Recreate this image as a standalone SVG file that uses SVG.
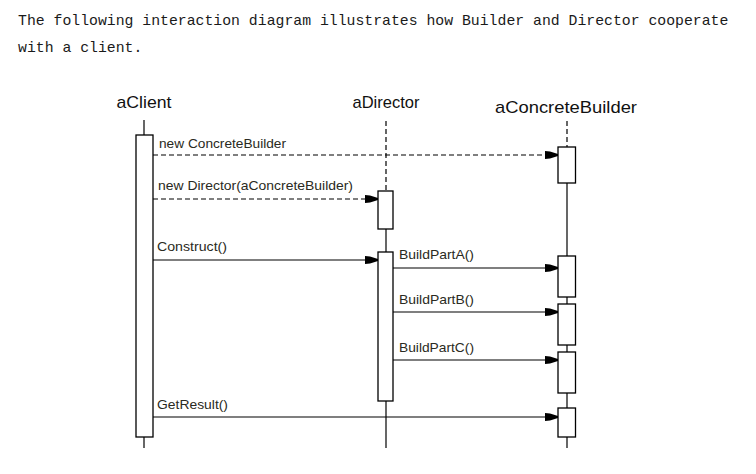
<svg xmlns="http://www.w3.org/2000/svg" width="756" height="474" viewBox="0 0 756 474">
<style>
.intro{font-family:"Liberation Mono","Courier New",monospace;font-size:14.8px;fill:#1a1a1a}
.title{font-family:"Liberation Sans",Arial,sans-serif;font-size:17px;fill:#111;text-anchor:middle}
.lbl{font-family:"Liberation Sans",Arial,sans-serif;font-size:13.3px;fill:#2a2a22}
.life{stroke:#000;stroke-width:1.2;fill:none}
.dash{stroke-dasharray:5 3}
.act{fill:#fff;stroke:#000;stroke-width:1.3}
.msg{stroke:#000;stroke-width:1.2;fill:none;marker-end:url(#ah)}
</style>
<defs>
<marker id="ah" markerUnits="userSpaceOnUse" markerWidth="14" markerHeight="10" viewBox="-13 -5 14 10" refX="0" refY="0" orient="auto">
<path d="M-13,-4 L-8,-3.5 L0,-1 L0,1 L-8,3.5 L-13,4 Z" fill="#000"/>
</marker>
</defs>
<rect width="756" height="474" fill="#fff"/>
<text class="intro" x="18" y="25">The following interaction diagram illustrates how Builder and Director cooperate</text>
<text class="intro" x="18" y="52">with a client.</text>

<g id="aClient">
<text class="title" x="144" y="108" textLength="55" lengthAdjust="spacingAndGlyphs">aClient</text>
<line class="life" x1="144" y1="120" x2="144" y2="448"/>
<rect class="act" x="136" y="135" width="17" height="302"/>
</g>

<g id="aDirector">
<text class="title" x="386" y="108" textLength="67" lengthAdjust="spacingAndGlyphs">aDirector</text>
<line class="life dash" x1="386" y1="121" x2="386" y2="191"/>
<line class="life" x1="386" y1="191" x2="386" y2="448"/>
<rect class="act" x="378" y="191" width="15" height="38"/>
<rect class="act" x="378" y="252" width="15" height="149"/>
</g>

<g id="aConcreteBuilder">
<text class="title" x="566" y="113" textLength="142" lengthAdjust="spacingAndGlyphs">aConcreteBuilder</text>
<line class="life dash" x1="567" y1="121" x2="567" y2="147"/>
<line class="life" x1="567" y1="147" x2="567" y2="448"/>
<rect class="act" x="558" y="147" width="17.5" height="36"/>
<rect class="act" x="558" y="256" width="17.5" height="41"/>
<rect class="act" x="558" y="304" width="17.5" height="41"/>
<rect class="act" x="558" y="352" width="17.5" height="41"/>
<rect class="act" x="558" y="408" width="17.5" height="29"/>
</g>

<g id="connectors">
<line class="msg dash" x1="153" y1="155" x2="558" y2="155"/>
<text class="lbl" x="159" y="148" textLength="127" lengthAdjust="spacingAndGlyphs">new ConcreteBuilder</text>
<line class="msg dash" x1="153" y1="199" x2="378" y2="199"/>
<text class="lbl" x="158" y="190" textLength="195" lengthAdjust="spacingAndGlyphs">new Director(aConcreteBuilder)</text>
<line class="msg" x1="153" y1="260" x2="378" y2="260"/>
<text class="lbl" x="157" y="251" textLength="70" lengthAdjust="spacingAndGlyphs">Construct()</text>
<line class="msg" x1="393" y1="268" x2="558" y2="268"/>
<text class="lbl" x="399" y="259" textLength="75" lengthAdjust="spacingAndGlyphs">BuildPartA()</text>
<line class="msg" x1="393" y1="312" x2="558" y2="312"/>
<text class="lbl" x="399" y="304" textLength="75" lengthAdjust="spacingAndGlyphs">BuildPartB()</text>
<line class="msg" x1="393" y1="360" x2="558" y2="360"/>
<text class="lbl" x="399" y="352" textLength="75" lengthAdjust="spacingAndGlyphs">BuildPartC()</text>
<line class="msg" x1="153" y1="417" x2="558" y2="417"/>
<text class="lbl" x="157" y="408.5" textLength="71" lengthAdjust="spacingAndGlyphs">GetResult()</text>
</g>
</svg>
